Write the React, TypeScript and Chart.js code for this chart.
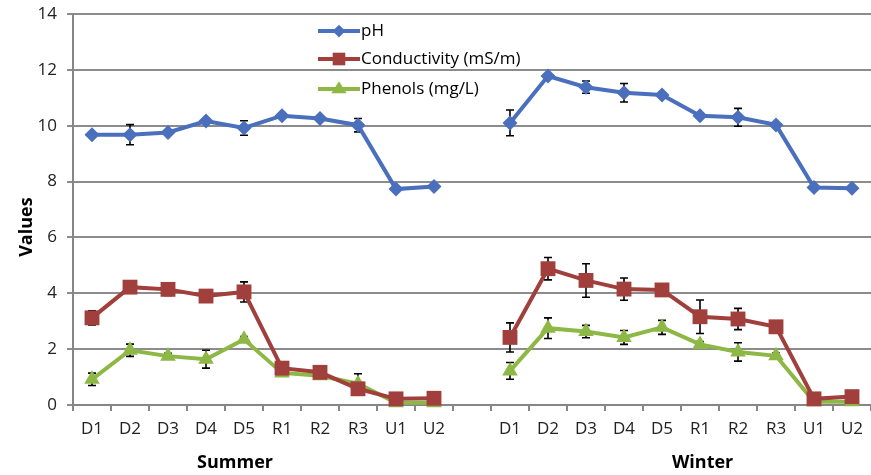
import React, { useEffect, useRef } from "react";
import { Chart, registerables } from "chart.js";

Chart.register(...registerables);

const sites = ["D1", "D2", "D3", "D4", "D5", "R1", "R2", "R3", "U1", "U2"];
const seasons = ["Summer", "Winter"];
const yTitle = "Values";

const phSummer = [9.68, 9.68, 9.76, 10.17, 9.92, 10.36, 10.26, 10.02, 7.73, 7.82];
const phWinter = [10.1, 11.78, 11.38, 11.18, 11.1, 10.36, 10.3, 10.03, 7.79, 7.76];
const phErrSummer = [0.05, 0.36, 0.05, 0.08, 0.26, 0.05, 0.05, 0.24, 0.05, 0.05];
const phErrWinter = [0.46, 0.08, 0.22, 0.33, 0.05, 0.08, 0.32, 0.05, 0.05, 0.05];

const condSummer = [3.12, 4.22, 4.14, 3.9, 4.05, 1.32, 1.17, 0.58, 0.22, 0.24];
const condWinter = [2.42, 4.88, 4.46, 4.15, 4.12, 3.16, 3.08, 2.8, 0.22, 0.3];
const condErrSummer = [0.25, 0.2, 0.22, 0.1, 0.36, 0.1, 0.1, 0.1, 0.05, 0.05];
const condErrWinter = [0.52, 0.4, 0.6, 0.4, 0.1, 0.6, 0.38, 0.1, 0.05, 0.05];

const phenSummer = [0.92, 1.96, 1.75, 1.64, 2.35, 1.15, 1.05, 0.76, 0.08, 0.08];
const phenWinter = [1.22, 2.75, 2.63, 2.42, 2.78, 2.17, 1.9, 1.76, 0.12, 0.12];
const phenErrSummer = [0.22, 0.22, 0.1, 0.32, 0.1, 0.1, 0.1, 0.36, 0.05, 0.05];
const phenErrWinter = [0.3, 0.37, 0.22, 0.25, 0.25, 0.1, 0.33, 0.1, 0.05, 0.05];

const seriesNames = ["pH", "Conductivity (mS/m)", "Phenols (mg/L)"];
const colors = ["#4A6FBD", "#A13F3C", "#8DB845"];
const pointStyles = ["rectRot", "rect", "triangle"];
const pointRadii = [7.5, 10.5, 9];

const labels = [...sites, "", ...sites];
const join = (a: number[], b: number[]) => [...a, null, ...b];

const FONT = "'Open Sans', 'Liberation Sans', sans-serif";

function marker(ctx: CanvasRenderingContext2D, style: string, r: number, x: number, y: number) {
  ctx.beginPath();
  if (style === "rectRot") {
    ctx.moveTo(x, y - r);
    ctx.lineTo(x + r, y);
    ctx.lineTo(x, y + r);
    ctx.lineTo(x - r, y);
  } else if (style === "rect") {
    const s = r * Math.SQRT1_2;
    ctx.rect(x - s, y - s, 2 * s, 2 * s);
  } else {
    ctx.moveTo(x, y - r);
    ctx.lineTo(x + r, y + r * 0.55);
    ctx.lineTo(x - r, y + r * 0.55);
  }
  ctx.closePath();
  ctx.fill();
}

const errorBarPlugin = {
  id: "errorBars",
  beforeDatasetsDraw(chart: any) {
    const ctx = chart.ctx;
    const y = chart.scales.y;
    const x = chart.scales.x;
    ctx.save();
    ctx.strokeStyle = "#000";
    ctx.lineWidth = 1.6;
    chart.data.datasets.forEach((ds: any) => {
      const errs = ds.errors as (number | null)[];
      ds.data.forEach((v: number | null, i: number) => {
        const e = errs[i];
        if (v == null || e == null || e <= 0.06) return;
        const px = x.getPixelForValue(i);
        const top = y.getPixelForValue(v + e);
        const bot = y.getPixelForValue(v - e);
        ctx.beginPath();
        ctx.moveTo(px, top);
        ctx.lineTo(px, bot);
        ctx.moveTo(px - 4, top);
        ctx.lineTo(px + 4, top);
        ctx.moveTo(px - 4, bot);
        ctx.lineTo(px + 4, bot);
        ctx.stroke();
      });
    });
    ctx.restore();
  },
};

const decorPlugin = {
  id: "decor",
  afterDraw(chart: any) {
    const ctx = chart.ctx;
    const area = chart.chartArea;
    const w = area.right - area.left;
    const h = area.bottom - area.top;
    ctx.save();
    ctx.fillStyle = "#000";
    ctx.font = `bold 18px ${FONT}`;
    ctx.textAlign = "center";
    ctx.textBaseline = "middle";
    ctx.fillText(seasons[0], area.left + w * 0.203, 463);
    ctx.fillText(seasons[1], area.left + w * 0.789, 463);
    ctx.save();
    ctx.translate(27, area.top + h * 0.545);
    ctx.rotate(-Math.PI / 2);
    ctx.fillText(yTitle, 0, 0);
    ctx.restore();
    const lx = area.left + w * 0.307;
    const rows = [31, 59, 89];
    seriesNames.forEach((name, i) => {
      const yy = rows[i];
      ctx.strokeStyle = colors[i];
      ctx.lineWidth = 4;
      ctx.beginPath();
      ctx.moveTo(lx, yy);
      ctx.lineTo(lx + 42, yy);
      ctx.stroke();
      ctx.fillStyle = colors[i];
      marker(ctx, pointStyles[i], pointRadii[i] * 0.85, lx + 21, yy);
      ctx.fillStyle = "#000";
      ctx.font = `17px ${FONT}`;
      ctx.textAlign = "left";
      ctx.fillText(name, lx + 43, yy);
    });
    ctx.restore();
  },
};

export default function App() {
  const ref = useRef<HTMLCanvasElement>(null);
  useEffect(() => {
    document.body.style.margin = "0";
    const data = [
      { d: join(phSummer, phWinter), e: join(phErrSummer, phErrWinter) },
      { d: join(condSummer, condWinter), e: join(condErrSummer, condErrWinter) },
      { d: join(phenSummer, phenWinter), e: join(phenErrSummer, phenErrWinter) },
    ];
    const chart = new Chart(ref.current as HTMLCanvasElement, {
      type: "line",
      data: {
        labels,
        datasets: data.map((s, i) => ({
          label: seriesNames[i],
          data: s.d,
          errors: s.e,
          borderColor: colors[i],
          backgroundColor: colors[i],
          borderWidth: 4,
          pointStyle: pointStyles[i],
          pointRadius: pointRadii[i],
          pointBorderWidth: 0,
          pointBackgroundColor: colors[i],
          spanGaps: false,
          tension: 0,
          clip: false,
        })) as any,
      },
      options: {
        animation: false,
        responsive: false,
        maintainAspectRatio: false,
        layout: { autoPadding: false, padding: { top: 14, right: 0, left: 0, bottom: 0 } },
        plugins: { legend: { display: false }, tooltip: { enabled: false } },
        scales: {
          x: {
            offset: true,
            afterFit: (s: any) => { s.height = 70; s.paddingLeft = 0; s.paddingRight = 0; },
            grid: { offset: true, drawOnChartArea: false, drawTicks: true, tickLength: 6, color: "#868686", lineWidth: 2 },
            border: { color: "#868686", width: 2 },
            ticks: { color: "#222", font: { family: FONT, size: 17 }, padding: 8, autoSkip: false, maxRotation: 0 },
          },
          y: {
            min: 0,
            max: 14,
            afterFit: (s: any) => { s.width = 73; s.paddingTop = 0; s.paddingBottom = 0; },
            grid: { color: "#8C8C8C", lineWidth: 2, tickLength: 6 },
            border: { color: "#868686", width: 2 },
            ticks: { stepSize: 2, color: "#222", font: { family: FONT, size: 17 }, padding: 10 },
          },
        },
      },
      plugins: [errorBarPlugin, decorPlugin],
    } as any);
    return () => chart.destroy();
  }, []);
  return (
    <div style={{ width: 871, height: 475 }}>
      <canvas ref={ref} width={871} height={475} style={{ display: "block" }} />
    </div>
  );
}
